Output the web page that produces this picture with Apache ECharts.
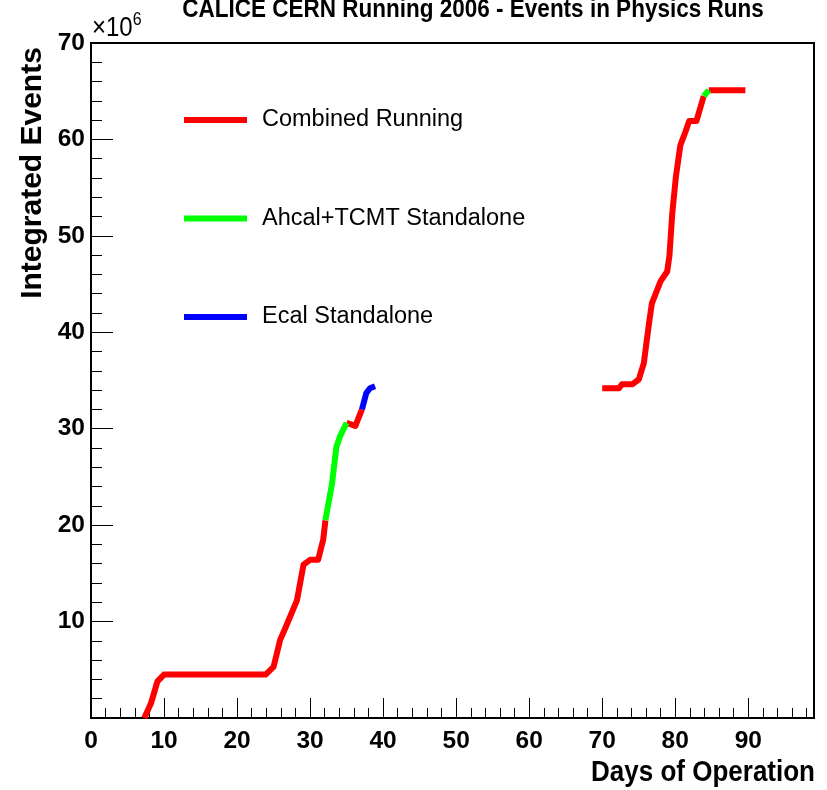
<!DOCTYPE html>
<html>
<head>
<meta charset="utf-8">
<script src="https://cdn.jsdelivr.net/npm/echarts@6/dist/echarts.min.js"></script>
<style>
html,body{margin:0;padding:0;background:#fff;}
#chart{width:827px;height:790px;}
</style>
</head>
<body>
<div id="chart"></div>
<script>
// ---- data (days of operation, integrated events in 1e6) ----
const combinedDays1   = [7.3, 8.2, 9.1, 10.0, 23.9, 25.0, 25.9, 26.6, 28.2, 29.1, 30.0, 31.1, 31.8, 32.1];
const combinedEvents1 = [0.0, 1.5, 3.8, 4.5, 4.5, 5.3, 8.1, 9.3, 12.2, 15.9, 16.4, 16.4, 18.5, 20.5];
const ahcalDays1      = [32.1, 33.0, 33.6, 34.1, 35.0];
const ahcalEvents1    = [20.5, 24.3, 28.1, 29.2, 30.6];
const combinedDays2   = [35.0, 36.2, 37.1];
const combinedEvents2 = [30.6, 30.3, 32.0];
const ecalDays        = [37.1, 37.7, 38.2, 38.9];
const ecalEvents      = [32.0, 33.7, 34.2, 34.4];
const combinedDays3   = [70.0, 72.3, 72.7, 74.1, 75.0, 75.7, 76.4, 76.8, 78.0, 78.9, 79.2, 79.6, 80.1, 80.7, 81.4, 81.9, 82.9, 83.9];
const combinedEvents3 = [34.2, 34.2, 34.6, 34.6, 35.1, 36.8, 40.9, 43.0, 45.3, 46.3, 47.9, 52.4, 56.2, 59.4, 60.8, 61.9, 61.9, 64.5];
const ahcalDays2      = [83.9, 84.6];
const ahcalEvents2    = [64.5, 65.1];
const combinedDays4   = [84.6, 89.6];
const combinedEvents4 = [65.1, 65.1];

const seriesNames = ['Combined Running', 'Ahcal+TCMT Standalone', 'Ecal Standalone'];
const xTickLabels = [0, 10, 20, 30, 40, 50, 60, 70, 80, 90];
const xMinorTicks = [0,2,4,6,8,10,12,14,16,18,20,22,24,26,28,30,32,34,36,38,40,42,44,46,48,50,52,54,56,58,60,62,64,66,68,70,72,74,76,78,80,82,84,86,88,90,92,94,96,98];
const yTickLabels = [10, 20, 30, 40, 50, 60, 70];
const yMajorTicks = [0, 10, 20, 30, 40, 50, 60, 70];
const yMinorTicks = [0,2,4,6,8,10,12,14,16,18,20,22,24,26,28,30,32,34,36,38,40,42,44,46,48,50,52,54,56,58,60,62,64,66,68,70];

const colors = {'Combined Running': '#ff0000', 'Ahcal+TCMT Standalone': '#00ff00', 'Ecal Standalone': '#0000ff'};
const FONT = "'Liberation Sans', Arial, Helvetica, sans-serif";

function zip(xs, ys) { return xs.map((x, i) => [x, ys[i]]); }
function seg(name, xs, ys) {
  return {
    name: name, type: 'line', xAxisIndex: 0, yAxisIndex: 0,
    data: zip(xs, ys), symbol: 'none', showSymbol: false, silent: true,
    lineStyle: {color: colors[name], width: 6, join: 'round', cap: 'butt'},
    itemStyle: {color: colors[name]},
    animation: false, z: 3
  };
}

const chart = echarts.init(document.getElementById('chart'), null, {renderer: 'canvas'});
const gridBox = {left: 91, top: 43, width: 723, height: 675};

chart.setOption({
  animation: false,
  backgroundColor: '#fff',
  grid: Object.assign({show: true, borderColor: '#000', borderWidth: 2, backgroundColor: 'transparent', containLabel: false}, gridBox),
  legend: {
    data: seriesNames,
    orient: 'vertical',
    left: 184, top: 108, padding: 0,
    icon: 'rect', itemWidth: 63, itemHeight: 6,
    itemGap: 74.5,
    selectedMode: false,
    textStyle: {fontFamily: FONT, fontSize: 23.5, color: '#000', lineHeight: 24, padding: [0, 0, 0, 10]}
  },
  xAxis: [{
    type: 'value', min: 0, max: 99, position: 'bottom',
    axisLine: {show: true, onZero: false, lineStyle: {color: '#000', width: 2}},
    axisTick: {show: true, inside: true, length: 20, customValues: xTickLabels, lineStyle: {color: '#000', width: 1}},
    axisLabel: {show: true, customValues: xTickLabels, margin: 11, color: '#000', fontFamily: FONT, fontWeight: 'bold', fontSize: 24.5},
    splitLine: {show: false}
  }, {
    type: 'value', min: 0, max: 99, position: 'bottom',
    axisLine: {show: false, onZero: false},
    axisTick: {show: true, inside: true, length: 10, customValues: xMinorTicks, lineStyle: {color: '#000', width: 1}},
    axisLabel: {show: false},
    splitLine: {show: false}
  }],
  yAxis: [{
    type: 'value', min: 0, max: 70, position: 'left',
    axisLine: {show: true, onZero: false, lineStyle: {color: '#000', width: 2}},
    axisTick: {show: true, inside: true, length: 22, customValues: yMajorTicks, lineStyle: {color: '#000', width: 1}},
    axisLabel: {show: true, customValues: yTickLabels, margin: 6, color: '#000', fontFamily: FONT, fontWeight: 'bold', fontSize: 24.5},
    splitLine: {show: false}
  }, {
    type: 'value', min: 0, max: 70, position: 'left',
    axisLine: {show: false, onZero: false},
    axisTick: {show: true, inside: true, length: 11, customValues: yMinorTicks, lineStyle: {color: '#000', width: 1}},
    axisLabel: {show: false},
    splitLine: {show: false}
  }],
  series: [
    seg('Combined Running', combinedDays1, combinedEvents1),
    seg('Combined Running', combinedDays2, combinedEvents2),
    seg('Combined Running', combinedDays3, combinedEvents3),
    seg('Combined Running', combinedDays4, combinedEvents4),
    seg('Ahcal+TCMT Standalone', ahcalDays1, ahcalEvents1),
    seg('Ahcal+TCMT Standalone', ahcalDays2, ahcalEvents2),
    seg('Ecal Standalone', ecalDays, ecalEvents)
  ],
  graphic: [
    {type: 'text', x: 473, y: 10, scaleY: 1.15, style: {text: 'CALICE CERN Running 2006 - Events in Physics Runs', fill: '#000', font: 'bold 22.5px ' + FONT, textAlign: 'center', textVerticalAlign: 'middle'}},
    {type: 'text', x: 92, y: 28, scaleY: 1.15, style: {rich: {a: {fontFamily: FONT, fontSize: 24, fill: '#000'}, b: {fontFamily: FONT, fontSize: 16, fill: '#000', verticalAlign: 'top', padding: [0, 0, 14, 0]}}, text: '{a|×10}{b|6}', textAlign: 'left', textVerticalAlign: 'middle'}},
    {type: 'text', x: 33, y: 173, rotation: Math.PI / 2, style: {text: 'Integrated Events', fill: '#000', font: 'bold 30px ' + FONT, textAlign: 'center', textVerticalAlign: 'middle'}},
    {type: 'text', x: 815, y: 773, scaleY: 1.12, style: {text: 'Days of Operation', fill: '#000', font: 'bold 26px ' + FONT, textAlign: 'right', textVerticalAlign: 'middle'}}
  ]
});
</script>
</body>
</html>
